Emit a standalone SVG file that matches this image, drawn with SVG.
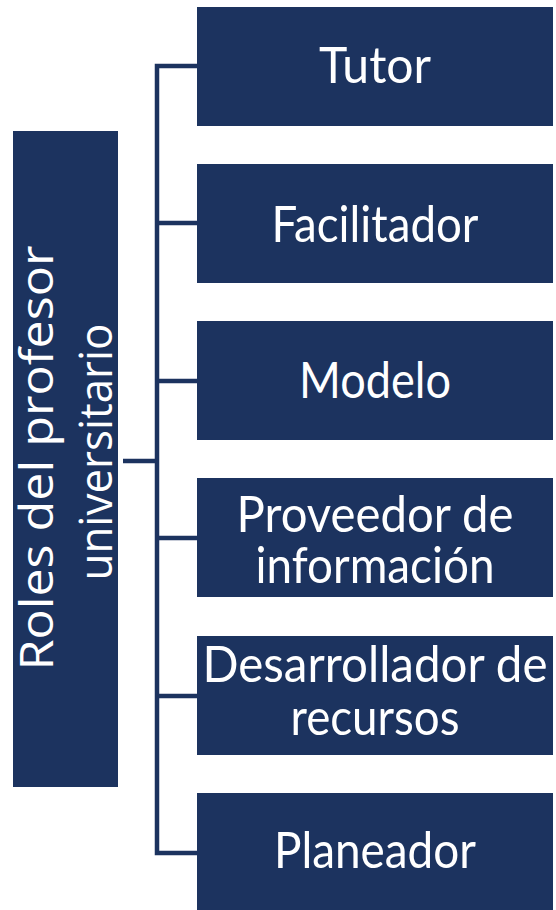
<svg xmlns="http://www.w3.org/2000/svg" width="556" height="910" viewBox="0 0 556 910">
<style>
.box{fill:#1c335f;}
.lbl{fill:#ffffff;font-family:Lato,"Noto Sans","Liberation Sans",sans-serif;font-size:51px;font-weight:400;text-anchor:middle;}
.root{fill:#ffffff;font-family:"Open Sans","Noto Sans","Liberation Sans",sans-serif;font-size:45px;font-weight:400;text-anchor:middle;}
.conn{fill:none;stroke:#1c335f;stroke-width:4.5;stroke-linejoin:miter;}
</style>
<rect width="556" height="910" fill="#ffffff"/>
<g id="connectors">
<path class="conn" d="M197,66 H157 V853 H197"/>
<path class="conn" d="M157,223 H197 M157,381 H197 M157,538 H197 M157,696 H197"/>
<path class="conn" d="M123,461 H157"/>
</g>
<g id="root">
<rect class="box" x="13" y="131" width="105" height="656"/>
<text class="root" transform="translate(53,458) rotate(-90)" textLength="425" lengthAdjust="spacingAndGlyphs">Roles del profesor</text>
<text class="root" transform="translate(112,452) rotate(-90)" textLength="257" lengthAdjust="spacingAndGlyphs">universitario</text>
</g>
<g id="tutor">
<rect class="box" x="197" y="7" width="356" height="119"/>
<text class="lbl" x="375" y="83" textLength="112" lengthAdjust="spacingAndGlyphs">Tutor</text>
</g>
<g id="facilitador">
<rect class="box" x="197" y="164" width="356" height="119"/>
<text class="lbl" x="375" y="242" textLength="207" lengthAdjust="spacingAndGlyphs">Facilitador</text>
</g>
<g id="modelo">
<rect class="box" x="197" y="321" width="356" height="119"/>
<text class="lbl" x="375" y="398" textLength="152" lengthAdjust="spacingAndGlyphs">Modelo</text>
</g>
<g id="proveedor">
<rect class="box" x="197" y="478" width="356" height="119"/>
<text class="lbl" x="375" y="532" textLength="277" lengthAdjust="spacingAndGlyphs">Proveedor de</text>
<text class="lbl" x="375" y="583" textLength="239" lengthAdjust="spacingAndGlyphs">información</text>
</g>
<g id="desarrollador">
<rect class="box" x="197" y="636" width="356" height="119"/>
<text class="lbl" x="375" y="682" textLength="345" lengthAdjust="spacingAndGlyphs">Desarrollador de</text>
<text class="lbl" x="375" y="735" textLength="169" lengthAdjust="spacingAndGlyphs">recursos</text>
</g>
<g id="planeador">
<rect class="box" x="197" y="793" width="356" height="119"/>
<text class="lbl" x="375" y="868" textLength="202" lengthAdjust="spacingAndGlyphs">Planeador</text>
</g>
</svg>
